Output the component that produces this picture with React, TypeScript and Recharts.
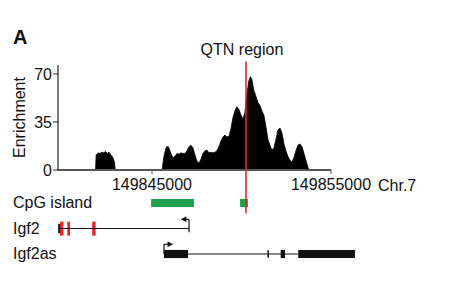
import React from 'react';
import {
    AreaChart,
    Area,
    ComposedChart,
    Scatter,
    XAxis,
    YAxis,
    ReferenceLine,
    ReferenceArea,
} from 'recharts';

const FONT = '"Liberation Sans", Arial, sans-serif';

const positions = [
    149839750, 149841850, 149841880, 149842000, 149842100, 149842200, 149842300, 149842400, 149842500, 149842600,
    149842700, 149842800, 149842900, 149842950,
    149845560, 149845670, 149845780, 149845870, 149845950, 149846060, 149846170, 149846290, 149846400, 149846510,
    149846620, 149846730, 149846840, 149846960, 149847070, 149847180, 149847290, 149847400, 149847510, 149847630,
    149847740, 149847850, 149847960, 149848070, 149848180, 149848300, 149848410, 149848520, 149848630, 149848740,
    149848850, 149848960, 149849080, 149849190, 149849300, 149849410, 149849520, 149849630, 149849740, 149849860,
    149849970, 149850080, 149850190, 149850300, 149850410, 149850500, 149850580, 149850690, 149850800, 149850920,
    149851030, 149851140, 149851250, 149851360, 149851480, 149851590, 149851700, 149851810, 149851920, 149852030,
    149852150, 149852260, 149852370, 149852480, 149852590, 149852710, 149852820, 149852930, 149853040, 149853150,
    149853260, 149853380, 149853490, 149853600, 149853710, 149853770, 149855000,
];
const enrichment = [
    0, 0, 11, 12.5, 12, 13, 12.5, 13.5, 12, 13,
    11, 9.5, 6, 0,
    0, 10, 16, 17.5, 16, 12, 9, 10, 12, 11.5,
    12.5, 12, 12, 14, 17, 18, 16, 11, 6.5, 5,
    8, 12, 14, 14.5, 12.5, 13, 12.5, 13, 14, 17,
    21, 24, 25.5, 24, 24.5, 30, 38, 43, 46, 44,
    40, 37, 42, 55, 65, 68, 66, 58, 54, 49,
    47, 43, 40, 32, 22, 18, 14.5, 16, 22, 29,
    30.6, 27, 19, 14, 10, 7, 6, 9, 14, 18,
    19, 17, 12, 7, 2, 0, 0,
];

const xDomain = [149839750, 149855000];
const xTicks = [149845000, 149855000];
const yTicks = [0, 35, 70];
const qtnPosition = 149850250;

// annotation tracks, lane index from the top
const trackNames = ['CpG island', 'Igf2', 'Igf2as'];
const cpgIslands = [
    [149844950, 149847350],
    [149849920, 149850360],
];
const igf2Intron = [149839760, 149847070];
const igf2SmallExon = [149839760, 149839900];
const igf2Exons = [
    [149839860, 149840050],
    [149840270, 149840420],
    [149841660, 149841850],
];
const igf2asIntron = [149845670, 149853170];
const igf2asExons = [
    [149845670, 149847010],
    [149852190, 149852430],
    [149853170, 149856340],
];
const igf2asThinExon = 149851490;
const tssArrows = [
    { x: 149846640, y: 0.64, dir: -1 },
    { x: 149846150, y: 1.62, dir: 1 },
];

const profile = positions.map((pos, i) => ({ pos, value: enrichment[i] }));

const TrackTick = ({ y, payload }: any) => (
    <text x={13} y={y} dy={5} fontSize={16} fill="#111" fontFamily={FONT}>
        {trackNames[payload.value]}
    </text>
);

const ArrowHead = ({ cx, cy, payload }: any) => {
    const d = payload.dir;
    return (
        <path
            d={`M${cx},${cy} L${cx - d * 5},${cy - 3} L${cx - d * 5},${cy + 3} Z`}
            fill="#111"
        />
    );
};

const EnrichmentLabel = ({ viewBox }: any) => {
    const cy = viewBox.y + viewBox.height / 2;
    return (
        <text
            x={25}
            y={cy}
            transform={`rotate(-90 25 ${cy})`}
            textAnchor="middle"
            fontSize={16}
            fill="#111"
            fontFamily={FONT}
        >
            Enrichment
        </text>
    );
};

export default function App() {
    const tick = { fill: '#111', fontSize: 16, fontFamily: FONT };
    return (
        <div style={{ position: 'absolute', left: 0, top: 0, width: 454, height: 282, background: '#fff' }}>
            <div
                style={{
                    position: 'absolute',
                    left: 13,
                    top: 27,
                    fontFamily: FONT,
                    fontWeight: 'bold',
                    fontSize: 20,
                    lineHeight: '20px',
                    color: '#111',
                }}
            >
                A
            </div>
            <div style={{ position: 'absolute', left: 0, top: 0 }}>
                <AreaChart
                    width={454}
                    height={200}
                    data={profile}
                    margin={{ top: 65, right: 123, left: 0, bottom: 0 }}
                >
                    <XAxis
                        dataKey="pos"
                        type="number"
                        domain={xDomain}
                        ticks={xTicks}
                        allowDataOverflow
                        height={30}
                        tick={tick}
                        tickSize={4}
                        tickMargin={5}
                        tickFormatter={(v) => String(v)}
                        axisLine={{ stroke: '#555', strokeWidth: 2 }}
                        tickLine={{ stroke: '#555' }}
                        label={{ value: 'Chr.7', position: 'right', offset: 47, fontSize: 16, fill: '#111', fontFamily: FONT }}
                    />
                    <YAxis
                        width={58}
                        domain={[0, 76.5]}
                        ticks={yTicks}
                        tick={tick}
                        tickSize={5}
                        tickMargin={1}
                        axisLine={{ stroke: '#222', strokeWidth: 1.2 }}
                        tickLine={{ stroke: '#222' }}
                        label={<EnrichmentLabel />}
                    />
                    <Area
                        type="linear"
                        dataKey="value"
                        stroke="#000"
                        strokeWidth={0.8}
                        fill="#000"
                        fillOpacity={1}
                        isAnimationActive={false}
                    />
                </AreaChart>
            </div>
            <div style={{ position: 'absolute', left: 0, top: 0 }}>
                <ComposedChart
                    width={454}
                    height={282}
                    data={tssArrows}
                    margin={{ top: 50, right: 123, left: 0, bottom: 2.5 }}
                >
                    <XAxis dataKey="x" type="number" domain={xDomain} allowDataOverflow hide />
                    <YAxis
                        type="number"
                        width={58}
                        domain={[-6, 3]}
                        reversed
                        ticks={[0, 1, 2]}
                        axisLine={false}
                        tickLine={false}
                        tick={<TrackTick />}
                    />
                    {cpgIslands.map(([a, b], i) => (
                        <ReferenceArea
                            key={'cpg' + i}
                            x1={a}
                            x2={b}
                            y1={-0.16}
                            y2={0.16}
                            fill="#23a24d"
                            fillOpacity={1}
                            stroke="none"
                            ifOverflow="visible"
                        />
                    ))}
                    <ReferenceLine
                        segment={[{ x: igf2Intron[0], y: 1 }, { x: igf2Intron[1], y: 1 }]}
                        stroke="#111"
                        strokeWidth={1.2}
                        ifOverflow="visible"
                    />
                    <ReferenceLine
                        segment={[{ x: igf2Intron[1], y: 0.64 }, { x: igf2Intron[1], y: 1.15 }]}
                        stroke="#111"
                        strokeWidth={1.2}
                        ifOverflow="visible"
                    />
                    <ReferenceLine
                        segment={[{ x: igf2Intron[1], y: 0.64 }, { x: tssArrows[0].x, y: 0.64 }]}
                        stroke="#111"
                        strokeWidth={1.2}
                        ifOverflow="visible"
                    />
                    <ReferenceArea
                        x1={igf2SmallExon[0]}
                        x2={igf2SmallExon[1]}
                        y1={0.82}
                        y2={1.18}
                        fill="#111"
                        fillOpacity={1}
                        stroke="none"
                        ifOverflow="visible"
                    />
                    {igf2Exons.map(([a, b], i) => (
                        <ReferenceArea
                            key={'igf2' + i}
                            x1={a}
                            x2={b}
                            y1={0.73}
                            y2={1.28}
                            fill="#e8232a"
                            fillOpacity={1}
                            stroke="none"
                            ifOverflow="visible"
                        />
                    ))}
                    <ReferenceLine
                        segment={[{ x: igf2asIntron[0], y: 2 }, { x: igf2asIntron[1], y: 2 }]}
                        stroke="#111"
                        strokeWidth={1.2}
                        ifOverflow="visible"
                    />
                    <ReferenceLine
                        segment={[{ x: igf2asIntron[0], y: 1.62 }, { x: igf2asIntron[0], y: 2 }]}
                        stroke="#111"
                        strokeWidth={1.2}
                        ifOverflow="visible"
                    />
                    <ReferenceLine
                        segment={[{ x: igf2asIntron[0], y: 1.62 }, { x: tssArrows[1].x, y: 1.62 }]}
                        stroke="#111"
                        strokeWidth={1.2}
                        ifOverflow="visible"
                    />
                    <ReferenceLine
                        segment={[{ x: igf2asThinExon, y: 1.85 }, { x: igf2asThinExon, y: 2.15 }]}
                        stroke="#111"
                        strokeWidth={1.5}
                        ifOverflow="visible"
                    />
                    {igf2asExons.map(([a, b], i) => (
                        <ReferenceArea
                            key={'as' + i}
                            x1={a}
                            x2={b}
                            y1={1.84}
                            y2={2.16}
                            fill="#111"
                            fillOpacity={1}
                            stroke="none"
                            ifOverflow="visible"
                        />
                    ))}
                    <Scatter dataKey="y" shape={<ArrowHead />} isAnimationActive={false} />
                    <ReferenceLine
                        segment={[{ x: qtnPosition, y: -5.55 }, { x: qtnPosition, y: 0.4 }]}
                        stroke="#e8232a"
                        strokeWidth={1.6}
                        ifOverflow="visible"
                        label={{
                            value: 'QTN region',
                            position: 'top',
                            offset: 6,
                            dx: -4,
                            fontSize: 16,
                            fill: '#111',
                            fontFamily: FONT,
                        }}
                    />
                </ComposedChart>
            </div>
        </div>
    );
}
